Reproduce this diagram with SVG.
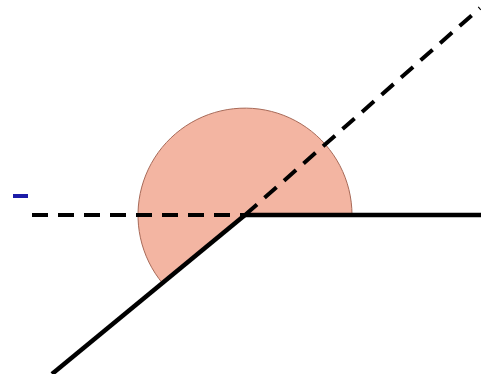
<svg xmlns="http://www.w3.org/2000/svg" width="481" height="374" viewBox="0 0 481 374">
<style>
.solid{stroke:#000;stroke-width:4.5;fill:none;stroke-linecap:butt}
.dash{stroke:#000;stroke-width:4;fill:none;stroke-dasharray:16 10}
</style>
<rect width="481" height="374" fill="#fff"/>
<g id="angle">
<path d="M245,215 L352,215 A107,107 0 1 0 162.7,283.5 Z" fill="#f3b5a2" stroke="none"/>
<path d="M352,215 A107,107 0 1 0 162.7,283.5" fill="none" stroke="#a86a58" stroke-width="1"/>
</g>
<g id="connectors">
<line class="dash" x1="32" y1="215" x2="245" y2="215"/>
<line class="solid" x1="245" y1="215" x2="481" y2="215"/>
<line class="solid" x1="245" y1="215" x2="52" y2="374"/>
<line class="dash" x1="245" y1="215" x2="480" y2="8"/>
</g>
<rect id="mark" x="13" y="194" width="15" height="4" fill="#1c1ca8"/>
</svg>
